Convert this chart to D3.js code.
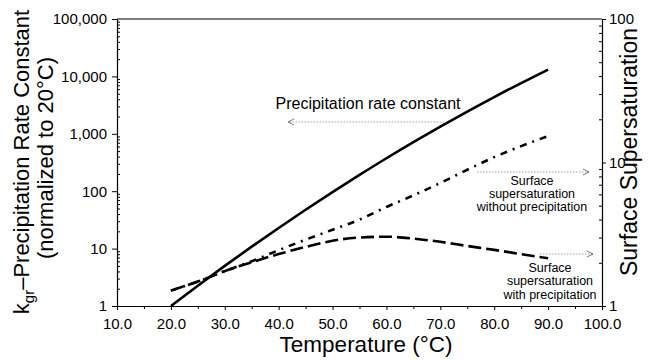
<!DOCTYPE html>
<html>
<head>
    <style>
        body { margin: 0; background: white; }
        text { font-family: "Liberation Sans", Arial, Helvetica, sans-serif; fill: #000; }
        .domain { stroke: #000; stroke-width: 1.2px; }
        .tick line { stroke: #000; }
    </style>
    <script src="https://d3js.org/d3.v7.min.js"></script>
</head>
<body>
<svg id="chart" width="652" height="360"></svg>
<script>
    // temperatures (deg C) and the three curves
    const temps = [20, 25, 30, 35, 40, 45, 50, 55, 60, 65, 70, 75, 80, 85, 90];
    const rateConst = [1, 2.26, 5.0, 10.8, 22.9, 47.5, 96.6, 192, 375, 715, 1334, 2440, 4370, 7640, 13100];
    const ssNoPrecip = [1.28, 1.48, 1.75, 2.05, 2.45, 2.9, 3.4, 4.0, 4.9, 5.9, 7.2, 8.9, 10.9, 13.0, 15.3];
    const ssPrecip = [1.28, 1.48, 1.75, 2.02, 2.3, 2.58, 2.85, 3.0, 3.04, 2.95, 2.8, 2.62, 2.46, 2.3, 2.15];

    const xTicks = [10, 20, 30, 40, 50, 60, 70, 80, 90, 100];
    const xMinor = [15, 25, 35, 45, 55, 65, 75, 85, 95];
    const leftTicks = [1, 10, 100, 1000, 10000, 100000];
    const rightTicks = [1, 10, 100];

    const svg = d3.select("#chart");
    const pL = 117, pR = 602, pT = 19, pB = 306;

    const x = d3.scaleLinear().domain([10, 100]).range([pL, pR]);
    const yL = d3.scaleLog().domain([1, 100000]).range([pB, pT]);
    const yR = d3.scaleLog().domain([1, 100]).range([pB, pT]);

    // minor log ticks (2..9 each decade)
    function minors(lo, hi) {
        let out = [];
        for (let d = lo; d < hi; d *= 10)
            for (let k = 2; k <= 9; k++) out.push(d * k);
        return out;
    }

    // frame top
    svg.append("line").attr("x1", pL).attr("x2", pR).attr("y1", pT).attr("y2", pT)
        .attr("stroke", "#000").attr("stroke-width", 1.2);

    // bottom axis
    const gx = svg.append("g").attr("transform", "translate(0," + pB + ")")
        .call(d3.axisBottom(x).tickValues(xTicks).tickFormat(d3.format(".1f")).tickSize(4).tickPadding(8).tickSizeOuter(0));
    gx.selectAll("text").style("font-size", "15px");
    svg.append("g").attr("transform", "translate(0," + pB + ")")
        .call(d3.axisBottom(x).tickValues(xMinor).tickFormat("").tickSize(3).tickSizeOuter(0))
        .select(".domain").remove();

    // left axis
    const gl = svg.append("g").attr("transform", "translate(" + pL + ",0)")
        .call(d3.axisLeft(yL).tickValues(leftTicks).tickFormat(d3.format(",")).tickSize(5).tickPadding(5).tickSizeOuter(0));
    gl.selectAll("text").style("font-size", "15px");
    svg.append("g").attr("transform", "translate(" + pL + ",0)")
        .call(d3.axisRight(yL).tickValues(minors(1, 100000)).tickFormat("").tickSize(3).tickSizeOuter(0))
        .select(".domain").remove();

    // right axis
    const gr = svg.append("g").attr("transform", "translate(" + pR + ",0)")
        .call(d3.axisRight(yR).tickValues(rightTicks).tickFormat(d3.format("d")).tickSize(4).tickPadding(3).tickSizeOuter(0));
    gr.selectAll("text").style("font-size", "15px");
    svg.append("g").attr("transform", "translate(" + pR + ",0)")
        .call(d3.axisLeft(yR).tickValues(minors(1, 100)).tickFormat("").tickSize(3).tickSizeOuter(0))
        .select(".domain").remove();

    // curves
    const rows = temps.map((t, i) => ({t: t, k: rateConst[i], a: ssNoPrecip[i], b: ssPrecip[i]}));
    const lineK = d3.line().x(d => x(d.t)).y(d => yL(d.k)).curve(d3.curveMonotoneX);
    const lineA = d3.line().x(d => x(d.t)).y(d => yR(d.a)).curve(d3.curveMonotoneX);
    const lineB = d3.line().x(d => x(d.t)).y(d => yR(d.b)).curve(d3.curveMonotoneX);

    svg.append("path").datum(rows).attr("d", lineK)
        .attr("fill", "none").attr("stroke", "#000").attr("stroke-width", 2.6);
    svg.append("path").datum(rows).attr("d", lineA)
        .attr("fill", "none").attr("stroke", "#000").attr("stroke-width", 2.6)
        .attr("stroke-dasharray", "7,6,2,6");
    svg.append("path").datum(rows).attr("d", lineB)
        .attr("fill", "none").attr("stroke", "#000").attr("stroke-width", 2.6)
        .attr("stroke-dasharray", "13,5");

    // dotted arrows
    function arrow(x1, x2, y) {
        svg.append("line").attr("x1", x1).attr("x2", x2).attr("y1", y).attr("y2", y)
            .attr("stroke", "#888").attr("stroke-width", 0.8).attr("stroke-dasharray", "1.5,1.5");
        const dir = x2 > x1 ? -1 : 1;
        svg.append("path")
            .attr("d", "M" + (x2 + dir * 6) + "," + (y - 3) + "L" + x2 + "," + y + "L" + (x2 + dir * 6) + "," + (y + 3))
            .attr("fill", "none").attr("stroke", "#555").attr("stroke-width", 0.8);
    }
    arrow(447, 288, 122);
    arrow(477, 589, 172);
    arrow(540, 593, 254);

    // annotations
    svg.append("text").attr("x", 368).attr("y", 109).attr("text-anchor", "middle")
        .style("font-size", "16px").text("Precipitation rate constant");

    function block(cx, y0, lines) {
        lines.forEach((s, i) => {
            svg.append("text").attr("x", cx).attr("y", y0 + i * 13.4).attr("text-anchor", "middle")
                .style("font-size", "12.5px").text(s);
        });
    }
    block(532, 184.5, ["Surface", "supersaturation", "without precipitation"]);
    block(550, 272, ["Surface", "supersaturation", "with precipitation"]);

    // axis titles
    svg.append("text").attr("x", 366).attr("y", 352).attr("text-anchor", "middle")
        .style("font-size", "22.5px").text("Temperature (\u00b0C)");

    const t1 = svg.append("text").attr("transform", "translate(29,162) rotate(-90)")
        .attr("text-anchor", "middle").style("font-size", "22px");
    t1.append("tspan").text("k");
    t1.append("tspan").attr("dy", 5).style("font-size", "15px").text("gr");
    t1.append("tspan").attr("dy", -5).text("\u2013Precipitation Rate Constant");
    svg.append("text").attr("transform", "translate(53,158) rotate(-90)")
        .attr("text-anchor", "middle").style("font-size", "22px").text("(normalized to 20\u00b0C)");

    svg.append("text").attr("transform", "translate(637,152) rotate(-90)")
        .attr("text-anchor", "middle").style("font-size", "23px").text("Surface Supersaturation");
</script>
</body>
</html>
